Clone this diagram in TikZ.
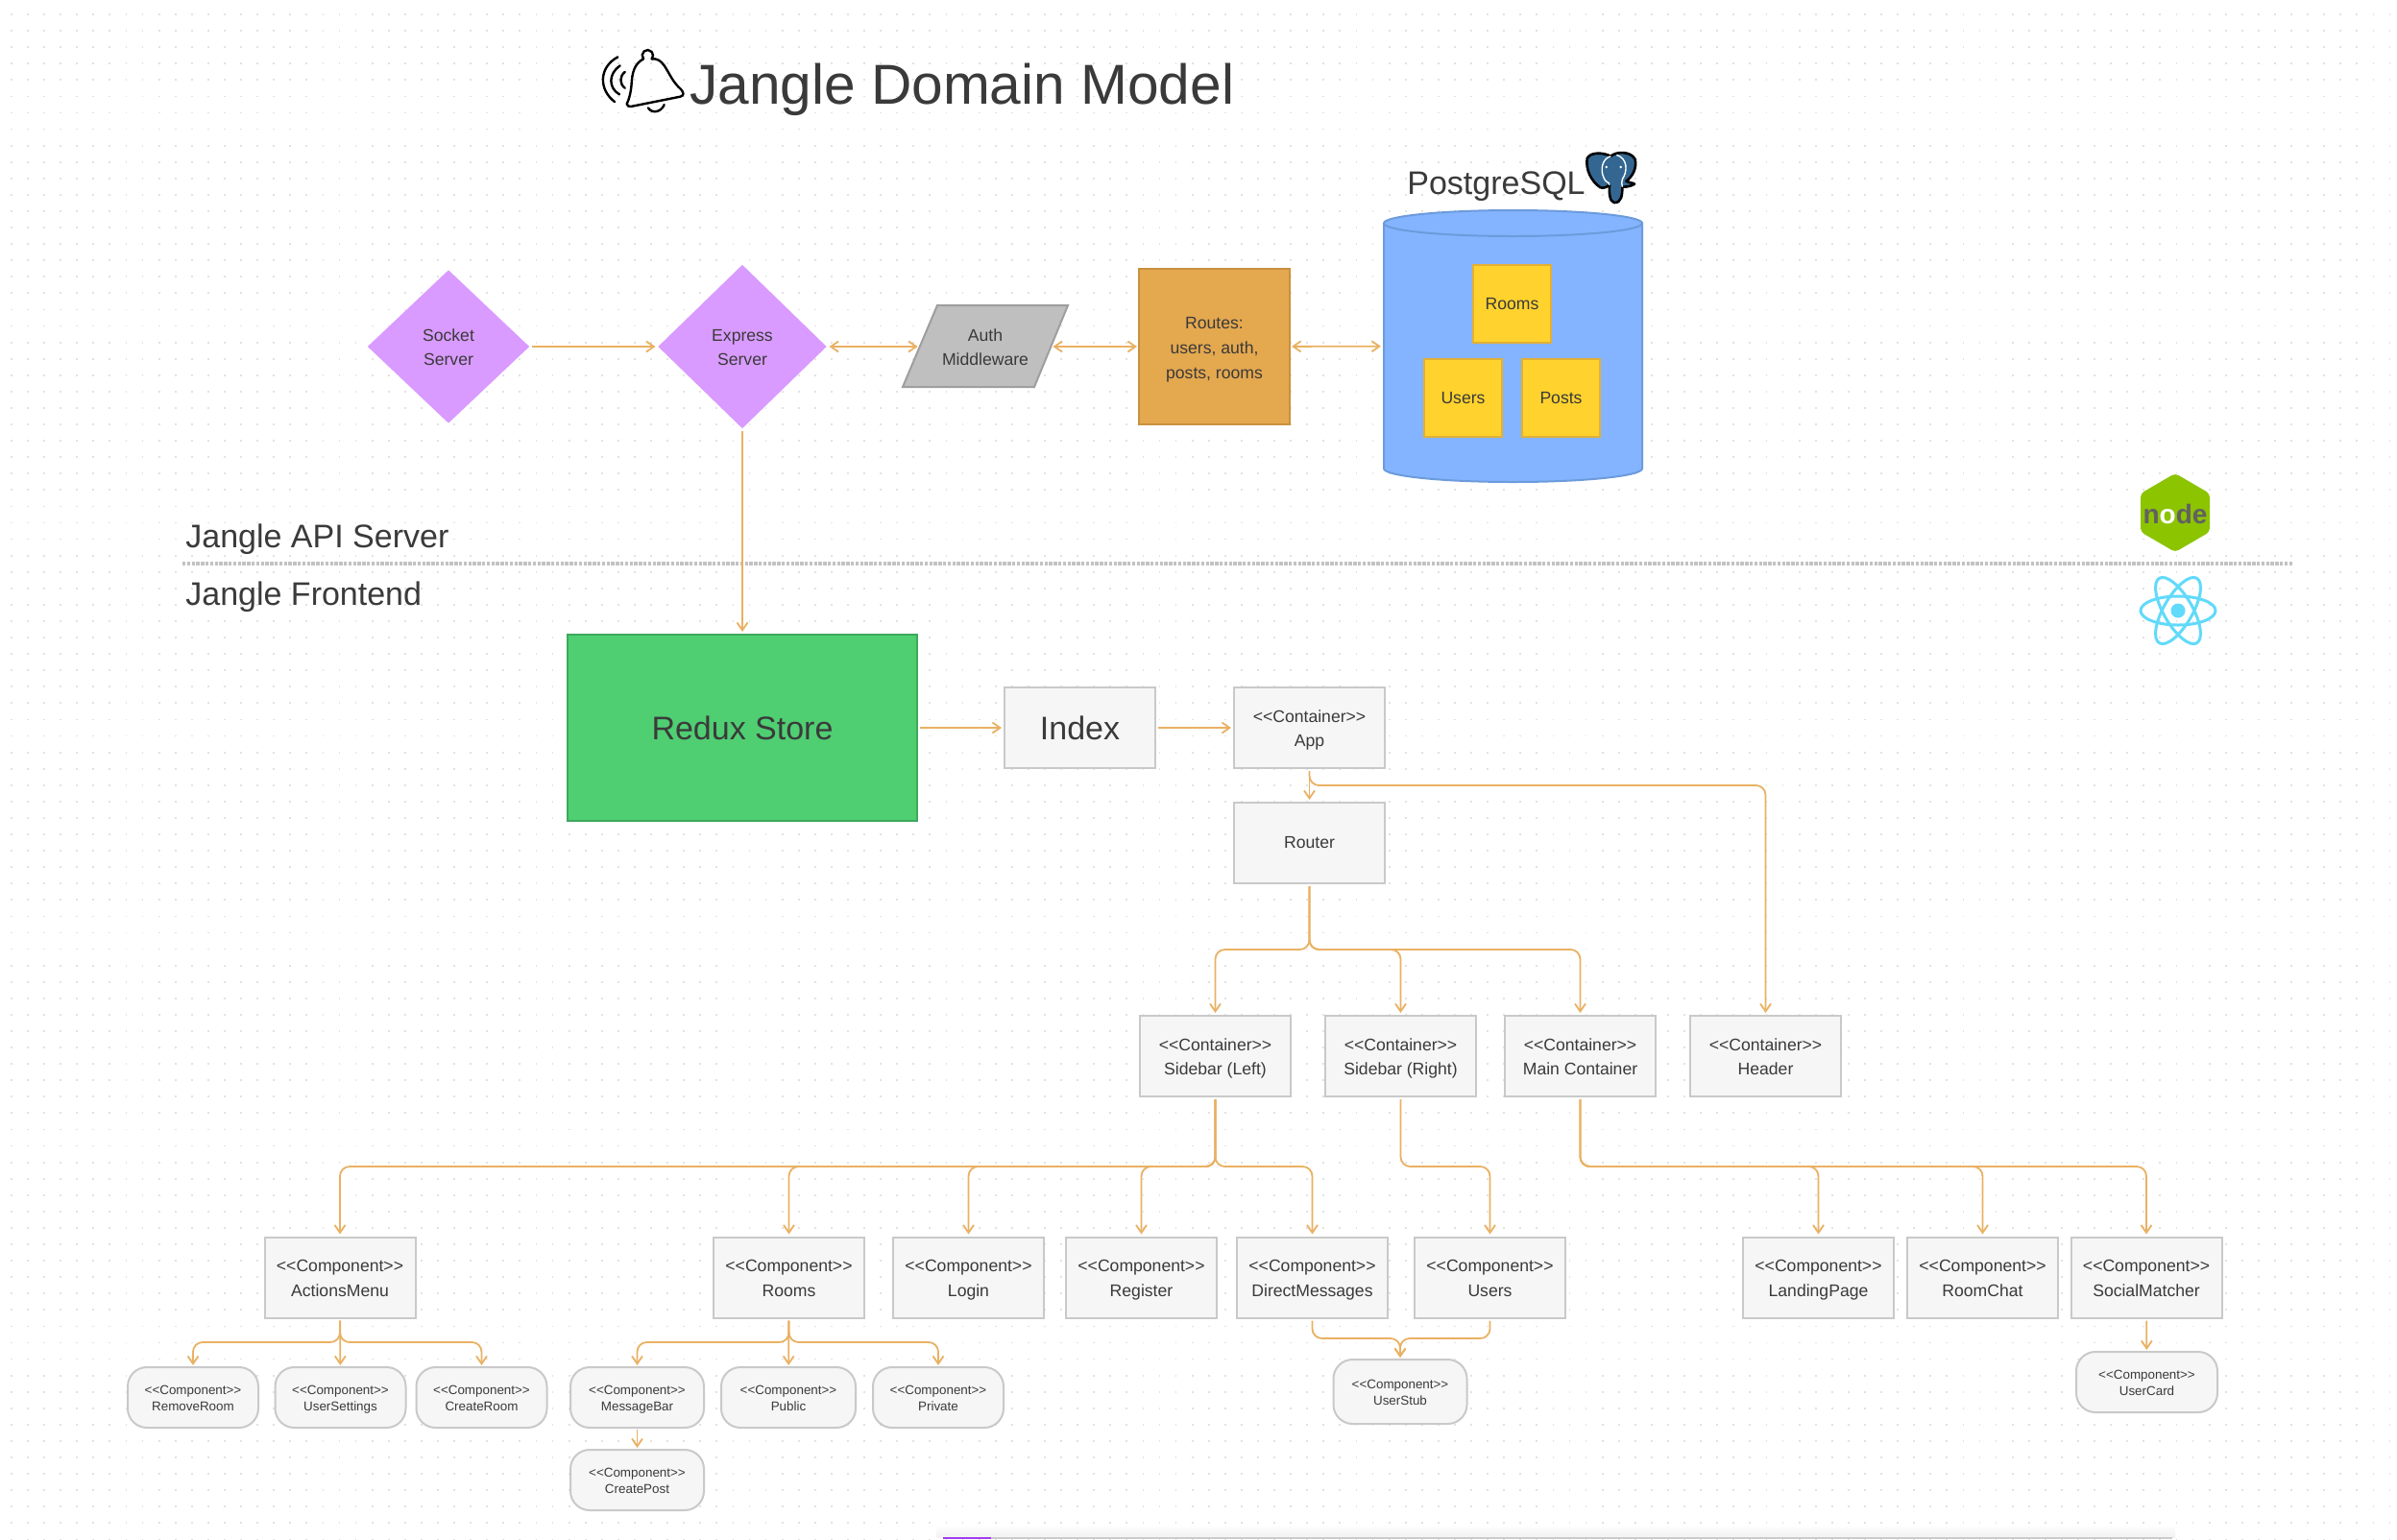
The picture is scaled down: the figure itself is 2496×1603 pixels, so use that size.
\documentclass[tikz,border=0pt]{standalone}
\usepackage{fontspec}
\setmainfont{Liberation Sans}
\usepackage{xcolor}
\usetikzlibrary{arrows.meta,shapes.geometric}
\definecolor{inkGrey}{HTML}{3A3A3A}
\definecolor{linkOrange}{HTML}{E9B163}
\definecolor{boxFill}{HTML}{F6F6F7}
\definecolor{boxEdge}{HTML}{C9C9C9}
\definecolor{dotGrey}{HTML}{E2E2E2}
\definecolor{pgBlue}{HTML}{336791}
\definecolor{reactBlue}{HTML}{61DAFB}
\definecolor{nodeGreen}{HTML}{8CC400}
\definecolor{flowPurple}{HTML}{D99BFF}
\definecolor{tableFill}{HTML}{FFD22E}
\definecolor{tableEdge}{HTML}{E2B035}
\definecolor{routeFill}{HTML}{E4A84F}
\definecolor{routeEdge}{HTML}{C8913F}
\definecolor{dbFill}{HTML}{84B4FF}
\definecolor{dbEdge}{HTML}{6C9BDC}
\definecolor{reduxFill}{HTML}{4FCE72}
\definecolor{reduxEdge}{HTML}{3EA85C}
\definecolor{barPurple}{HTML}{A23CF0}
\newcommand{\contTag}{<{}<Container>{}>}
\newcommand{\compTag}{<{}<Component>{}>}

\begin{document}
\begin{tikzpicture}[x=0.5pt,y=-0.5pt,>={Straight Barb[length=4pt,width=5.5pt,line width=.9pt]},text=inkGrey,
  txt/.style={font=\fontsize{8.8}{12.8}\selectfont,align=center},
  twolines/.style={text height=19.6pt,text depth=0pt},
  big/.style={font=\fontsize{17}{20}\selectfont},
  plainbox/.style={txt,draw=boxEdge,line width=1pt,fill=boxFill,minimum width=78.5pt,minimum height=42pt,inner sep=0pt,outer sep=1.5pt},
  tagbox/.style={plainbox,twolines},
  pill/.style={draw=boxEdge,line width=1pt,fill=boxFill,font=\fontsize{6.7}{8.5}\selectfont,align=center,text height=14pt,text depth=0pt,rounded corners=10pt,minimum width=68pt,minimum height=31.5pt,inner sep=0pt,outer sep=1pt},
  flow/.style={txt,twolines,shape=diamond,fill=flowPurple,inner sep=0pt,outer sep=1pt},
  dbtable/.style={txt,draw=tableEdge,line width=1pt,fill=tableFill,minimum width=40.5pt,minimum height=40.5pt,inner sep=0pt},
  link/.style={draw=linkOrange,line width=.9pt,rounded corners=5pt,->},
  biglink/.style={link,<->},
  griddot/.style={draw=dotGrey,line width=.9pt,dash pattern=on .9pt off 7.64pt}]
\useasboundingbox (0,0) rectangle (2496,1603);
\fill[white] (0,0) rectangle (2496,1603);
\foreach \row in {0,...,93}
  \draw[griddot] (11,{15+17.08*\row}) -- (2496,{15+17.08*\row});

% bar cut off by the bottom edge
\shade[top color=white,bottom color=black!5] (975,1588) rectangle (2265,1601);
\fill[black!20] (982,1601) rectangle (2262,1603);
\fill[barPurple] (982,1601) rectangle (1032,1603);

\node[font=\fontsize{29.3}{32}\selectfont,anchor=base west,inner sep=0pt] (title) at (718,108) {Jangle Domain Model};
\begin{scope}[shift={(610,40)},x=0.1667pt,y=-0.1667pt,draw=black,line width=1.2pt,line cap=round,line join=round]
  \draw (180,64) arc[start angle=140,end angle=400,radius=17];
  \draw (180,64) .. controls (150,80) and (145,110) .. (143,140) .. controls (141,170) and (135,190) .. (128,205) .. controls (128,212) and (135,213) .. (145,212) -- (295,182) .. controls (308,178) and (306,170) .. (298,160) .. controls (270,135) and (262,110) .. (245,85) .. controls (235,70) and (222,62) .. (206,64);
  \draw (195,217) .. controls (205,235) and (235,232) .. (245,207);
  \draw (100,58) .. controls (40,90) and (40,160) .. (90,198);
  \draw (107,85) .. controls (70,110) and (70,155) .. (105,175);
  \draw (122,105) .. controls (105,118) and (105,142) .. (122,155);
\end{scope}

\node[big,anchor=base west,inner sep=0pt] (pgname) at (1465,202) {PostgreSQL};
\begin{scope}[shift={(1640,150)},x=0.1667pt,y=-0.1667pt,line join=round]
  \path[fill=pgBlue,draw=black,line width=1.3pt] (38,45) .. controls (48,25) and (85,25) .. (112,38) .. controls (130,22) and (175,22) .. (188,48) .. controls (194,78) and (178,103) .. (160,116) .. controls (168,122) and (180,120) .. (186,125) .. controls (172,134) and (155,134) .. (148,134) .. controls (148,160) and (145,185) .. (122,183) .. controls (108,180) and (106,150) .. (108,128) .. controls (98,135) and (88,140) .. (78,135) .. controls (50,115) and (33,80) .. (38,45) -- cycle;
  \draw[white,line width=.7pt] (112,38) .. controls (85,45) and (78,80) .. (90,105) .. controls (98,125) and (106,115) .. (108,128);
  \draw[white,line width=.7pt] (130,34) .. controls (165,45) and (165,85) .. (148,110) .. controls (143,118) and (148,125) .. (148,134);
  \fill[white] (98,72) circle[radius=4];
  \fill[white] (143,72) circle[radius=4];
\end{scope}

\node[flow,minimum width=85pt,minimum height=80.5pt] (socket) at (467,361) {Socket\\Server};
\node[flow,minimum width=88.5pt,minimum height=86pt] (express) at (773,361) {Express\\Server};
\path[fill=black!25,draw=black!38,line width=1pt] (976,318) -- (1112,318) -- (1077,403) -- (940,403) -- cycle;
\node[txt,twolines,minimum width=70pt,minimum height=42pt,inner sep=0pt] (auth) at (1026,361) {Auth\\Middleware};
\node[txt,text height=33pt,text depth=0pt,draw=routeEdge,line width=1pt,fill=routeFill,minimum width=78.5pt,minimum height=81pt,inner sep=0pt,outer sep=1pt] (routes) at (1264.5,361) {Routes:\\users, auth,\\posts, rooms};
\path[fill=dbFill,draw=dbEdge,line width=1pt] (1710,488) arc[start angle=0,end angle=180,x radius=134.5,y radius=14] -- (1441,232.5) arc[start angle=180,end angle=360,x radius=134.5,y radius=13.5] -- cycle;
\draw[dbEdge,line width=1pt] (1441,232.5) arc[start angle=180,end angle=0,x radius=134.5,y radius=13.5];
\node[minimum width=134.5pt,minimum height=141.5pt,inner sep=0pt,outer sep=1.5pt] (db) at (1575.5,360.5) {};
\node[dbtable] (rooms) at (1574.5,316.5) {Rooms};
\node[dbtable] (usersT) at (1523.5,414.5) {Users};
\node[dbtable] (posts) at (1625.5,414.5) {Posts};

\draw[link] (socket) -- (express);
\draw[biglink] (express) -- (auth);
\draw[biglink] (auth) -- (routes);
\draw[biglink] (routes) -- (db);

% node and react marks
\path[fill=nodeGreen,rounded corners=2pt] (2265,493) -- (2301,514) -- (2301,554) -- (2265,575) -- (2229,554) -- (2229,514) -- cycle;
\node[font=\fontsize{14}{14}\selectfont\bfseries,text=black!62,inner sep=0pt] (nodemark) at (2265,535) {n{\color{white}o}de};
\foreach \turn in {0,60,120}
  \draw[reactBlue,line width=1.5pt,rotate around={\turn:(2268,636)}] (2268,636) ellipse[x radius=39,y radius=15];
\fill[reactBlue] (2268,636) circle[radius=7.5];

\node[big,anchor=base west,inner sep=0pt] (apilabel) at (193,570) {Jangle API Server};
\node[big,anchor=base west,inner sep=0pt] (frontlabel) at (193,630) {Jangle Frontend};
\draw[draw=black!24,line width=2pt,dash pattern=on 1.7pt off .7pt] (190,587) -- (2388,587);

\node[big,draw=reduxEdge,line width=1pt,fill=reduxFill,minimum width=182pt,minimum height=97pt,inner sep=0pt,outer sep=1.5pt] (redux) at (773,758) {Redux Store};
\node[plainbox,big] (index) at (1124.5,758) {Index};
\node[tagbox] (app) at (1363.5,758) {\contTag\\App};
\node[plainbox] (router) at (1363.5,878) {Router};
\node[tagbox] (sideL) at (1265.5,1100) {\contTag\\Sidebar (Left)};
\node[tagbox] (sideR) at (1458.5,1100) {\contTag\\Sidebar (Right)};
\node[tagbox] (main) at (1645.5,1100) {\contTag\\Main Container};
\node[tagbox] (header) at (1838.5,1100) {\contTag\\Header};
\node[tagbox] (actions) at (354,1330.5) {\compTag\\ActionsMenu};
\node[tagbox] (roomsC) at (821.5,1330.5) {\compTag\\Rooms};
\node[tagbox] (login) at (1008.5,1330.5) {\compTag\\Login};
\node[tagbox] (register) at (1188.5,1330.5) {\compTag\\Register};
\node[tagbox] (direct) at (1366.5,1330.5) {\compTag\\DirectMessages};
\node[tagbox] (usersC) at (1551.5,1330.5) {\compTag\\Users};
\node[tagbox] (landing) at (1893.5,1330.5) {\compTag\\LandingPage};
\node[tagbox] (roomchat) at (2064.5,1330.5) {\compTag\\RoomChat};
\node[tagbox] (social) at (2235,1330.5) {\compTag\\SocialMatcher};
\node[pill] (remove) at (201,1455.5) {\compTag\\RemoveRoom};
\node[pill] (settings) at (354.5,1455.5) {\compTag\\UserSettings};
\node[pill] (create) at (501.5,1455.5) {\compTag\\CreateRoom};
\node[pill,minimum width=69.5pt] (message) at (663.5,1455.5) {\compTag\\MessageBar};
\node[pill,minimum width=70pt] (public) at (821,1455.5) {\compTag\\Public};
\node[pill] (private) at (977,1455.5) {\compTag\\Private};
\node[pill,minimum width=69.5pt] (post) at (663.5,1541.5) {\compTag\\CreatePost};
\node[pill,minimum width=69.5pt,minimum height=33.5pt] (stub) at (1458,1449.5) {\compTag\\UserStub};
\node[pill,minimum width=73.5pt] (card) at (2235.5,1439.5) {\compTag\\UserCard};

\coordinate (busApp) at (1900,818);
\coordinate (busRouter) at (1363.5,989);
\coordinate (busSide) at (1265.5,1215);
\coordinate (busMain) at (1645.5,1215);
\coordinate (busActions) at (354,1398);
\coordinate (busRooms) at (821.5,1398);
\coordinate (busStub) at (1458,1394);

\draw[link,line width=.7pt] (express) -- (redux);
\draw[link] (redux) -- (index);
\draw[link] (index) -- (app);
\draw[link] (app) -- (router);
\draw[link] (app.south) -- (app.south |- busApp) -| (header.north);
\foreach \target in {sideL,sideR,main}
  \draw[link] (router.south) -- (busRouter) -| (\target.north);
\foreach \target in {actions,roomsC,login,register,direct}
  \draw[link] (sideL.south) -- (busSide) -| (\target.north);
\draw[link] (sideR.south) -- (sideR.south |- busSide) -| (usersC.north);
\foreach \target in {landing,roomchat,social}
  \draw[link] (main.south) -- (busMain) -| (\target.north);
\foreach \target in {remove,create}
  \draw[link] (actions.south) -- (busActions) -| (\target.north);
\draw[link] (actions) -- (settings);
\foreach \target in {message,private}
  \draw[link] (roomsC.south) -- (busRooms) -| (\target.north);
\draw[link] (roomsC) -- (public);
\draw[link] (message) -- (post);
\draw[link] (direct.south) -- (direct.south |- busStub) -| (stub.north);
\draw[link] (usersC.south) -- (usersC.south |- busStub) -| (stub.north);
\draw[link] (social) -- (card);
\end{tikzpicture}
\end{document}
